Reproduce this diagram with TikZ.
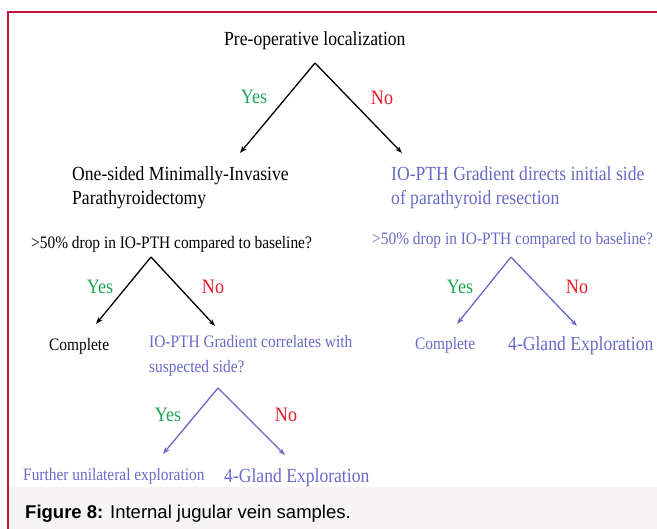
\documentclass[tikz,border=0pt]{standalone}
\usepackage{fontspec}
\setmainfont{Liberation Serif}
\newfontfamily\condfont[FakeStretch=0.88]{Liberation Serif}
\newfontfamily\capfont{Liberation Sans}
\usetikzlibrary{arrows.meta}

\definecolor{framered}{RGB}{196,20,60}
\definecolor{yesgreen}{RGB}{30,165,85}
\definecolor{nored}{RGB}{230,25,40}
\definecolor{gradblue}{RGB}{105,105,200}
\definecolor{capgrey}{RGB}{246,244,244}

\begin{document}
\begin{tikzpicture}[x=1pt,y=-1pt,
  big/.style={font=\condfont\fontsize{20}{24}\selectfont, inner sep=0pt, align=left, anchor=base west},
  small/.style={font=\condfont\fontsize{17.5}{25}\selectfont, inner sep=0pt, align=left, anchor=base west},
  yes/.style={font=\condfont\fontsize{20.5}{22}\selectfont, text=yesgreen, inner sep=0pt},
  no/.style={font=\condfont\fontsize{20.5}{22}\selectfont, text=nored, inner sep=0pt},
  branch/.style={line width=1.3pt, -{Stealth[length=7pt,width=5pt]}},
]
  \useasboundingbox (0,0) rectangle (657,529);

  % Frame and caption band
  \fill[capgrey] (9,487) rectangle (657,529);
  \draw[framered, line width=1.5pt] (657,12) -- (8,12) -- (8,529);

  % Texts (two-line nodes sit on their last baseline)
  \node[big] (loc) at (224,46) {Pre-operative localization};
  \node[big] (mip) at (72,205) {One-sided Minimally-Invasive\\Parathyroidectomy};
  \node[big, text=gradblue] (grad) at (391,205) {IO-PTH Gradient directs initial side\\of parathyroid resection};
  \node[small] (dropL) at (31,249) {>50\% drop in IO-PTH compared to baseline?};
  \node[small, text=gradblue] (dropR) at (372,245) {>50\% drop in IO-PTH compared to baseline?};
  \node[small] (compL) at (49,351) {Complete};
  \node[small, text=gradblue] (corr) at (149,373) {IO-PTH Gradient correlates with\\suspected side?};
  \node[small, text=gradblue] (compR) at (415,350) {Complete};
  \node[big, text=gradblue] (glandR) at (508,351) {4-Gland Exploration};
  \node[small, text=gradblue] (further) at (23,481) {Further unilateral exploration};
  \node[big, text=gradblue] (glandL) at (224,483) {4-Gland Exploration};

  % Caption
  \node[anchor=base west, inner sep=0pt, font=\capfont\fontsize{18.5}{20}\selectfont] (cap) at (25,519)
    {\textbf{Figure 8:} Internal jugular vein samples.};

  % Branch points
  \coordinate (a1) at (315,63);
  \coordinate (t1L) at (240,153);
  \coordinate (t1R) at (402,153);
  \coordinate (a2) at (151,257);
  \coordinate (t2L) at (96,324);
  \coordinate (t2R) at (215,326);
  \coordinate (a3) at (511,257);
  \coordinate (t3L) at (457,324);
  \coordinate (t3R) at (577,326);
  \coordinate (a4) at (218,388);
  \coordinate (t4L) at (163,454);
  \coordinate (t4R) at (285,455);

  % Arrows
  \foreach \a/\b in {a1/t1L, a1/t1R, a2/t2L, a2/t2R}
    \draw[branch] (\a) -- (\b);
  \foreach \a/\b in {a3/t3L, a3/t3R, a4/t4L, a4/t4R}
    \draw[branch, gradblue] (\a) -- (\b);

  % Yes / No labels
  \node[yes] (y1) at (254,97) {Yes};
  \node[no]  (n1) at (382,98) {No};
  \node[yes] (y2) at (100,287) {Yes};
  \node[no]  (n2) at (213,287) {No};
  \node[yes] (y3) at (460,287) {Yes};
  \node[no]  (n3) at (577,287) {No};
  \node[yes] (y4) at (168,415) {Yes};
  \node[no]  (n4) at (286,415) {No};
\end{tikzpicture}
\end{document}
